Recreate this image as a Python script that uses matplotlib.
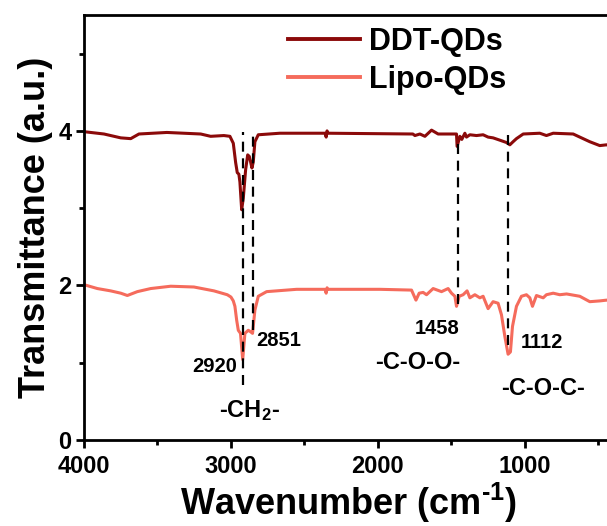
import matplotlib
matplotlib.use("Agg")
import matplotlib.pyplot as plt
from matplotlib.ticker import MultipleLocator

plt.rcParams['font.family'] = ['Liberation Sans', 'DejaVu Sans']
plt.rcParams['font.weight'] = 'bold'
plt.rcParams['mathtext.fontset'] = 'custom'
plt.rcParams['mathtext.rm'] = 'Liberation Sans:bold'
plt.rcParams['mathtext.bf'] = 'Liberation Sans:bold'
plt.rcParams['mathtext.it'] = 'Liberation Sans:bold'
plt.rcParams['mathtext.default'] = 'bf'

# ---- data ----
ddt_wn = [4000, 3864, 3750, 3682, 3626, 3436, 3206, 3138, 3048, 3007,
          2984, 2968, 2957, 2946, 2939, 2927, 2916, 2900, 2886, 2875,
          2864, 2857, 2848, 2837, 2814, 2667, 2360, 2352, 2346, 2338,
          1762, 1748, 1714, 1680, 1635, 1590, 1533, 1488, 1465, 1461,
          1442, 1429, 1408, 1397, 1374, 1329, 1284, 1250, 1216, 1170,
          1125, 1102, 1080, 1057, 1011, 898, 853, 807, 671, 626,
          558, 490, 444, 400]
ddt_y = [3.99, 3.96, 3.91, 3.90, 3.96, 3.98, 3.96, 3.93, 3.94, 3.93,
         3.84, 3.59, 3.46, 3.44, 3.34, 2.98, 3.13, 3.50, 3.69, 3.67,
         3.58, 3.52, 3.60, 3.86, 3.95, 3.97, 3.97, 3.92, 4.00, 3.97,
         3.96, 3.94, 3.96, 3.93, 4.01, 3.96, 3.96, 3.96, 3.96, 3.80,
         3.93, 3.89, 3.97, 3.92, 3.95, 3.94, 3.95, 3.92, 3.91, 3.88,
         3.85, 3.82, 3.86, 3.90, 3.96, 3.97, 3.94, 3.97, 3.96, 3.92,
         3.86, 3.81, 3.82, 3.80]

lipo_wn = [4000, 3909, 3819, 3750, 3705, 3637, 3546, 3410, 3252, 3116,
           3025, 3000, 2984, 2973, 2961, 2950, 2935, 2920, 2905, 2882,
           2866, 2853, 2837, 2814, 2757, 2553, 2360, 2352, 2346, 2338,
           1986, 1771, 1741, 1719, 1692, 1669, 1624, 1567, 1522, 1499,
           1476, 1465, 1447, 1420, 1393, 1374, 1340, 1306, 1284, 1250,
           1216, 1182, 1159, 1136, 1114, 1098, 1084, 1057, 1023, 989,
           966, 948, 921, 875, 853, 807, 762, 716, 626, 558,
           490, 444, 400]
lipo_y = [2.01, 1.96, 1.93, 1.90, 1.87, 1.92, 1.96, 1.99, 1.98, 1.93,
          1.88, 1.85, 1.80, 1.73, 1.55, 1.42, 1.38, 1.04, 1.38, 1.42,
          1.40, 1.38, 1.68, 1.86, 1.92, 1.95, 1.95, 1.90, 1.97, 1.95,
          1.95, 1.94, 1.81, 1.90, 1.91, 1.88, 1.96, 1.92, 1.96, 1.90,
          1.86, 1.73, 1.86, 1.88, 1.93, 1.84, 1.88, 1.84, 1.86, 1.70,
          1.79, 1.77, 1.62, 1.34, 1.11, 1.14, 1.47, 1.73, 1.86, 1.88,
          1.84, 1.73, 1.87, 1.84, 1.88, 1.90, 1.88, 1.89, 1.86, 1.79,
          1.80, 1.81, 1.80]

series_labels = ['DDT-QDs', 'Lipo-QDs']
series_colors = ['#8b0a0a', '#f56b5c']

mark_wn = [2920, 2851, 1458, 1112]
mark_top = [3.99, 3.99, 3.90, 3.96]
mark_bottom = [0.71, 1.42, 1.76, 1.23]

# annotations: (text, wavenumber, y, fontsize)
annot_text = ['2920', '2851', '1458', '-C-O-O-', '1112', '-C-O-C-', '-CH$_{2}$-']
annot_wn = [3112, 2673, 1595, 1731, 881, 874, 2871]
annot_y = [0.945, 1.29, 1.44, 1.00, 1.26, 0.67, 0.38]
annot_size = [14.5, 14.5, 14.5, 17, 14.5, 17, 17]

# ---- figure ----
fig = plt.figure(figsize=(6.07, 5.26), dpi=100)
ax = fig.add_axes([84 / 607, 86 / 526, 529 / 607, 425 / 526])

ax.plot(ddt_wn, ddt_y, color=series_colors[0], lw=2.2, label=series_labels[0])
ax.plot(lipo_wn, lipo_y, color=series_colors[1], lw=2.2, label=series_labels[1])

for x, y0, y1 in zip(mark_wn, mark_bottom, mark_top):
    ax.plot([x, x], [y0, y1], color='black', lw=1.6, linestyle=(0, (4.5, 3)))

for t, x, y, s in zip(annot_text, annot_wn, annot_y, annot_size):
    ax.text(x, y, t, ha='center', va='center', fontsize=s, fontweight='bold')

ax.set_xlim(4000, 400)
ax.set_ylim(0, 5.5)
ax.set_xticks([4000, 3000, 2000, 1000])
ax.set_yticks([0, 2, 4])
ax.xaxis.set_minor_locator(MultipleLocator(500))
ax.yaxis.set_minor_locator(MultipleLocator(1))
ax.tick_params(which='major', direction='out', length=6, width=2, labelsize=17)
ax.tick_params(axis='x', which='major', pad=5)
ax.tick_params(axis='y', which='major', pad=3)
ax.tick_params(which='minor', direction='out', length=3.5, width=2)
for lab in ax.get_xticklabels() + ax.get_yticklabels():
    lab.set_fontweight('bold')
for sp in ax.spines.values():
    sp.set_linewidth(2)
ax.spines['right'].set_visible(False)

ax.set_xlabel(r'Wavenumber (cm$^{\text{-1}}$)', fontsize=26, fontweight='bold', labelpad=1.5)
ax.set_ylabel('Transmittance (a.u.)', fontsize=26, fontweight='bold', labelpad=4)

leg = ax.legend(loc='center left', bbox_to_anchor=(288 / 607, 1 - 61 / 526),
                bbox_transform=fig.transFigure, frameon=False, fontsize=22,
                handlelength=2.35, handletextpad=0.3, labelspacing=0.25,
                borderpad=0, borderaxespad=0)
for line in leg.get_lines():
    line.set_linewidth(2.8)

fig.savefig('out.png', dpi=100)
